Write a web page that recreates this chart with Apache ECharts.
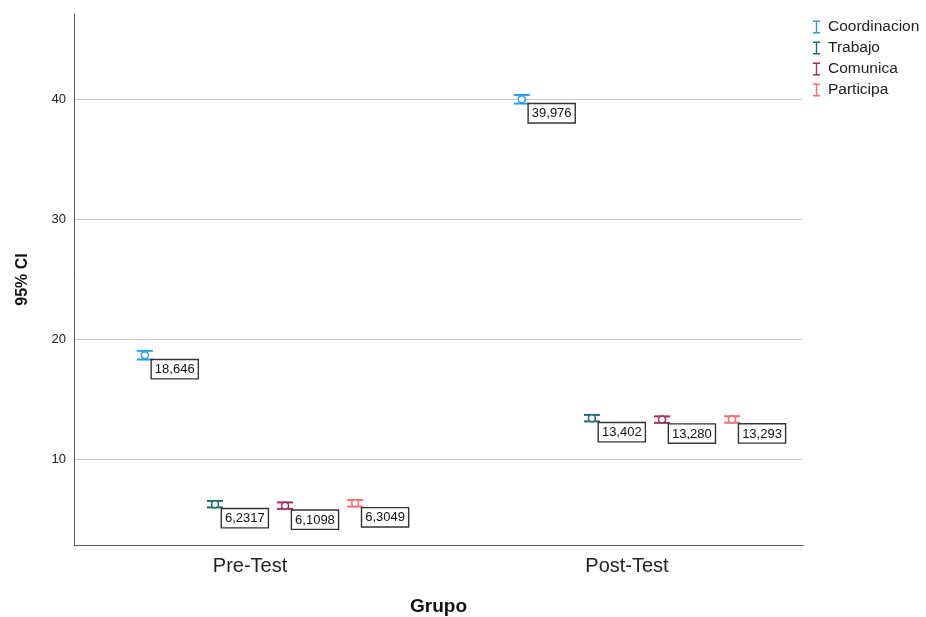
<!DOCTYPE html>
<html><head><meta charset="utf-8">
<script src="https://cdn.jsdelivr.net/npm/echarts@6/dist/echarts.min.js"></script>
<style>html,body{margin:0;padding:0;background:#fff}#c{width:926px;height:617px}</style>
</head><body><div id="c"></div>
<script>
const categories = ['Pre-Test', 'Post-Test'];
const seriesNames = ['Coordinacion', 'Trabajo', 'Comunica', 'Participa'];
const coordinacion = [18.646, 39.976];
const trabajo = [6.2317, 13.402];
const comunica = [6.1098, 13.280];
const participa = [6.3049, 13.293];
const ciHalf = [[0.36, 0.36], [0.27, 0.27], [0.27, 0.27], [0.27, 0.27]];
const yTicks = [10, 20, 30, 40];
const colors = ['#2b9bec', '#1b6f6b', '#a32a62', '#f76a6e'];
const offsets = [-0.279, -0.093, 0.093, 0.279];
const allMeans = [coordinacion, trabajo, comunica, participa];
const FONT = 'Arial, "Liberation Sans", sans-serif';

function fmt(v){ return v.toPrecision(5).replace('.', ','); }

const series = seriesNames.map((name, si) => ({
  name, type: 'custom', coordinateSystem: 'cartesian2d',
  itemStyle: { color: colors[si] },
  data: categories.map((c, ci) => [ci + offsets[si], allMeans[si][ci], allMeans[si][ci] - ciHalf[si][ci], allMeans[si][ci] + ciHalf[si][ci]]),
  renderItem: function(params, api){
    const x = api.value(0), m = api.value(1), lo = api.value(2), hi = api.value(3);
    const pm = api.coord([x, m]), pl = api.coord([x, lo]), ph = api.coord([x, hi]);
    const col = colors[si], w = 8;
    return { type: 'group', children: [
      { type: 'line', shape: { x1: pm[0], y1: pl[1], x2: pm[0], y2: ph[1] }, style: { stroke: col, lineWidth: 1.5 } },
      { type: 'line', shape: { x1: pm[0]-w, y1: pl[1], x2: pm[0]+w, y2: pl[1] }, style: { stroke: col, lineWidth: 2 } },
      { type: 'line', shape: { x1: pm[0]-w, y1: ph[1], x2: pm[0]+w, y2: ph[1] }, style: { stroke: col, lineWidth: 2 } },
      { type: 'circle', shape: { cx: pm[0], cy: pm[1], r: 3.5 }, style: { stroke: col, fill: '#fff', lineWidth: 1.5 } },
      { type: 'text', x: pm[0] + 7, y: pm[1] + 5, style: { text: fmt(m), fill: '#111', font: '13px ' + FONT,
        backgroundColor: '#fff', borderColor: '#333', borderWidth: 1.4, padding: [3, 3, 2, 3], align: 'left', verticalAlign: 'top' } }
    ]};
  }
}));

const chart = echarts.init(document.getElementById('c'));
chart.setOption({
  animation: false,
  color: colors,
  grid: { left: 74, right: 123, top: 14, bottom: 72, containLabel: false, outerBoundsMode: 'none' },
  legend: {
    orient: 'vertical', left: 808, top: 14, itemGap: 5, itemWidth: 7, itemHeight: 13,
    icon: 'path://M0,0H7V1.4H4.2V11.6H7V13H0V11.6H2.8V1.4H0Z',
    textStyle: { fontSize: 15.5, color: '#222', fontFamily: FONT, padding: [0, 0, 0, 3] },
    data: seriesNames
  },
  xAxis: {
    type: 'value', min: -0.467, max: 1.467,
    name: 'Grupo', nameLocation: 'middle', nameGap: 52,
    nameTextStyle: { fontSize: 19, fontWeight: 'bold', color: '#111', fontFamily: FONT },
    axisLine: { show: true, onZero: false, lineStyle: { color: '#555', width: 1 } },
    axisTick: { show: false },
    splitLine: { show: false },
    axisLabel: { customValues: [0, 1], formatter: v => categories[Math.round(v)], fontSize: 20, color: '#222', margin: 11, fontFamily: FONT }
  },
  yAxis: {
    type: 'value', min: 2.83, max: 47.08,
    name: '95% CI', nameLocation: 'middle', nameGap: 43,
    nameTextStyle: { fontSize: 16, fontWeight: 'bold', color: '#111', fontFamily: FONT },
    axisLine: { show: true, onZero: false, lineStyle: { color: '#555', width: 1 } },
    axisTick: { show: false, customValues: yTicks },
    splitLine: { show: true, lineStyle: { color: '#c8c8c8', width: 1 } },
    axisLabel: { customValues: yTicks, fontSize: 13, color: '#222', margin: 8, fontFamily: FONT }
  },
  series
});
</script></body></html>
